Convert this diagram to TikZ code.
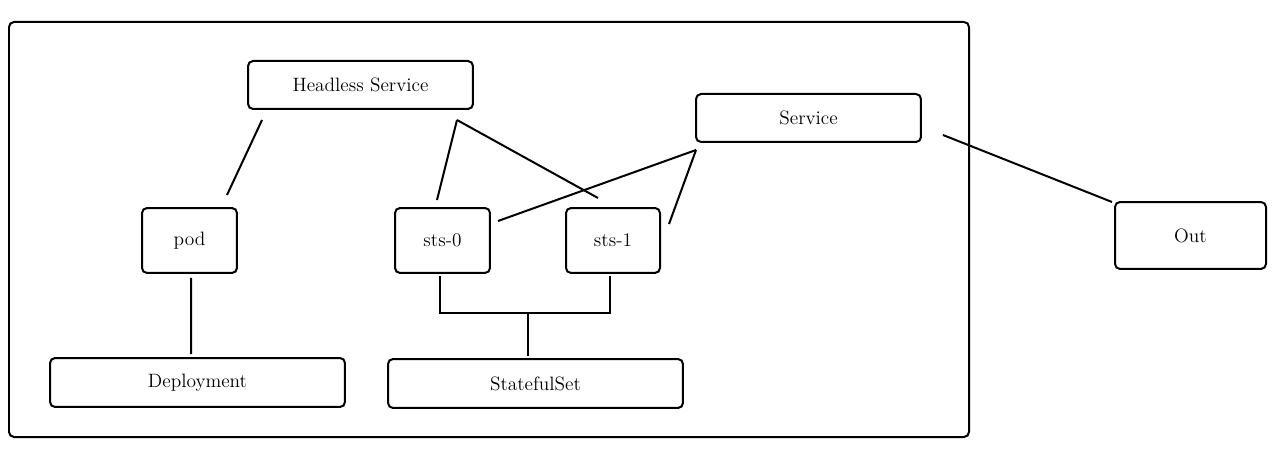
\documentclass[tikz,border=0pt]{standalone}
\usepackage{tikz}
\usetikzlibrary{calc}

\begin{document}
\begin{tikzpicture}[x=0.02cm, y=-0.02cm, font=\fontsize{11}{13}\selectfont]
			\tikzset{
				kbox/.style={draw, line width=0.4mm, rounded corners=1mm, inner sep=0pt},
				link/.style={line width=0.4mm},
			}
			%%%%% START %%%%%
			
			\useasboundingbox (0, 0) rectangle (1283, 455);
			\draw[line width=0.4mm, rounded corners=1mm] (9, 22) rectangle (969, 437);
			
			\node[kbox, minimum width=4.5cm, minimum height=0.96cm] (headless) at (360.5, 85) {Headless Service};
			\node[kbox, minimum width=4.5cm, minimum height=0.96cm] (service) at (808.5, 118) {Service};
			
			\node[kbox, minimum width=1.9cm, minimum height=1.3cm] (pod) at (189.5, 240.5) {pod};
			\node[kbox, minimum width=1.9cm, minimum height=1.3cm] (sts0) at (442.5, 240.5) {sts-0};
			\node[kbox, minimum width=1.88cm, minimum height=1.3cm] (sts1) at (613, 240.5) {sts-1};
			
			\node[kbox, minimum width=3.02cm, minimum height=1.34cm] (out) at (1190.5, 235.5) {Out};
			
			\node[kbox, minimum width=5.9cm, minimum height=0.98cm] (deploy) at (197.5, 382.5) {Deployment};
			\node[kbox, minimum width=5.9cm, minimum height=0.98cm] (stateful) at (535.5, 383.5) {StatefulSet};
			
			% loose ends of the links
			\coordinate (hs-a) at ($(headless.south west)+(15, 10)$);
			\coordinate (hs-b) at ($(headless.south east)+(-17, 10)$);
			\coordinate (sv-a) at ($(service.south west)+(1, 7)$);
			\coordinate (sv-b) at ($(service.east)+(21, 17)$);
			\coordinate (pod-t) at ($(pod.north east)+(-11, -12)$);
			\coordinate (pod-b) at ($(pod.south)+(1.5, 4)$);
			\coordinate (s0-t) at ($(sts0.north)+(-5.5, -7)$);
			\coordinate (s0-r) at ($(sts0.north east)+(7, 14)$);
			\coordinate (s0-b) at ($(sts0.south)+(-2.5, 2)$);
			\coordinate (s1-t) at ($(sts1.north)+(-15, -9)$);
			\coordinate (s1-r) at ($(sts1.north east)+(8, 17)$);
			\coordinate (s1-b) at ($(sts1.south)+(-3, 2)$);
			\coordinate (out-a) at ($(out.north west)+(-2, 1)$);
			\coordinate (dep-t) at ($(deploy.north)+(-6.5, -3)$);
			\coordinate (ss-t) at ($(stateful.north)+(-7.5, -2)$);
			\coordinate (ss-j) at ($(ss-t)+(0, -43)$);
			
			\draw[link] (hs-a) -- (pod-t);
			\draw[link] (hs-b) -- (s0-t);
			\draw[link] (hs-b) -- (s1-t);
			\draw[link] (sv-a) -- (s0-r);
			\draw[link] (sv-a) -- (s1-r);
			\draw[link] (sv-b) -- (out-a);
			\draw[link] (pod-b) -- (dep-t);
			
			\draw[link] (s0-b) -- (s0-b |- ss-j) -- (s1-b |- ss-j) -- (s1-b);
			\draw[link] (ss-j) -- (ss-t);
			
			%%%%% END %%%%%
		\end{tikzpicture}
\end{document}
